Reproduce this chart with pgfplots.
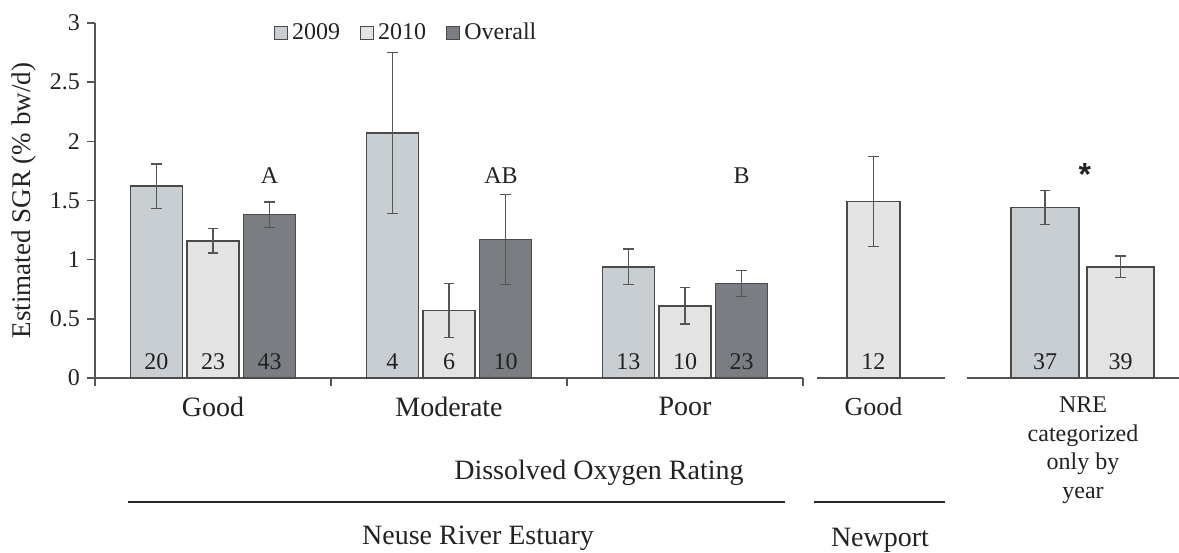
\documentclass[border=0pt]{standalone}
\usepackage{fontspec}
\setmainfont{Liberation Serif}
\newfontfamily\sansbold{Liberation Sans}
\usepackage{pgfplots}
\usepackage{pgfplotstable}
\pgfplotsset{compat=1.18}
\definecolor{c09}{HTML}{C9CED3}
\definecolor{c10}{HTML}{E3E3E3}
\definecolor{cov}{HTML}{7A7E83}
\definecolor{edge}{HTML}{4A4A4A}
\definecolor{axc}{HTML}{555555}
\definecolor{txt}{HTML}{222222}

% x = category position (Good=0, Moderate=1, Poor=2) plus the series offset
\pgfplotstableread{
x y e
-0.24 1.62 0.19
0.76 2.07 0.68
1.76 0.94 0.15
}\tA
\pgfplotstableread{
x y e
0 1.16 0.105
1 0.57 0.23
2 0.61 0.155
}\tB
\pgfplotstableread{
x y e
0.24 1.38 0.107
1.24 1.17 0.38
2.24 0.80 0.11
}\tC

\tikzset{
  cntlab/.style={font=\fontsize{12}{14}\selectfont, text=txt},
  letlab/.style={font=\fontsize{12}{14}\selectfont, text=txt},
}
\pgfplotsset{
  base/.style={scale only axis, ymin=0, ymax=3, height=177.5pt,
    anchor=south west, clip=false,
    axis x line*=bottom,
    axis line style={axc, line width=0.8pt},
    tick align=outside, major tick length=4pt,
    tick style={axc, line width=0.8pt},
    /pgf/number format/assume math mode=true,
    every tick label/.append style={text=txt},
  },
  bars/.style={ybar, bar shift=0pt, draw=edge, line width=0.8pt,
    legend image code/.code={\draw[##1, line width=0.6pt] (0pt,-3.25pt) rectangle (6.5pt,3.25pt);},
    error bars/y dir=both, error bars/y explicit,
    error bars/error bar style={axc, line width=0.7pt},
    error bars/error mark options={rotate=90, mark size=2.6pt, axc, line width=0.7pt},
  },
}

\begin{document}
\begin{tikzpicture}
\path[use as bounding box] (0,0) rectangle (589.5pt,276pt);

% main axis
\begin{axis}[base, at={(47.5pt,87pt)}, width=354pt,
  xmin=-0.5, xmax=2.5,
  axis y line*=left,
  ytick={0,0.5,1,1.5,2,2.5,3},
  yticklabel style={font=\fontsize{12}{14}\selectfont},
  ylabel={Estimated SGR (\% bw/d)},
  ylabel style={at={(axis description cs:-0.1,0.5)}, anchor=center, font=\fontsize{13.5}{16}\selectfont, text=txt},
  xtick={0,1,2}, xticklabels={Good,Moderate,Poor},
  xtick style={draw=none},
  xticklabel style={font=\fontsize{14}{16}\selectfont, yshift=-2pt},
  extra x ticks={-0.5,0.5,1.5,2.5},
  extra x tick labels={\empty,\empty,\empty,\empty},
  extra x tick style={xtick style={draw=axc, line width=0.8pt}},
  legend style={draw=none, fill=none, at={(rel axis cs:0.252,1.012)}, anchor=north west,
    legend columns=3, font=\fontsize{12}{14}\selectfont, inner sep=0pt, text=txt,
    /tikz/every even column/.append style={column sep=8pt}},
  legend cell align=left,
]
\addplot[bars, fill=c09, bar width=0.22] table[x=x, y=y, y error=e]{\tA};
\addlegendentry{2009}
\addplot[bars, fill=c10, bar width=0.22] table[x=x, y=y, y error=e]{\tB};
\addlegendentry{2010}
\addplot[bars, fill=cov, bar width=0.22] table[x=x, y=y, y error=e]{\tC};
\addlegendentry{Overall}

\node[cntlab] at (axis cs:-0.24,0.135) {20};
\node[cntlab] at (axis cs:0,0.135) {23};
\node[cntlab] at (axis cs:0.24,0.135) {43};
\node[cntlab] at (axis cs:0.76,0.135) {4};
\node[cntlab] at (axis cs:1,0.135) {6};
\node[cntlab] at (axis cs:1.24,0.135) {10};
\node[cntlab] at (axis cs:1.76,0.135) {13};
\node[cntlab] at (axis cs:2,0.135) {10};
\node[cntlab] at (axis cs:2.24,0.135) {23};

\node[letlab] at (axis cs:0.24,1.71) {A};
\node[letlab] at (axis cs:1.22,1.71) {AB};
\node[letlab] at (axis cs:2.24,1.71) {B};
\end{axis}

% Newport axis
\begin{axis}[base, at={(408.5pt,87pt)}, width=64pt,
  xmin=-0.239, xmax=0.303,
  axis y line=none,
  xtick={0}, xticklabels={Good}, xtick style={draw=none},
  xticklabel style={font=\fontsize{13}{15}\selectfont, yshift=-2pt},
]
\addplot[bars, fill=c10, bar width=0.225] coordinates {(0,1.49) +- (0,0.38)};
\node[cntlab] at (axis cs:0,0.135) {12};
\end{axis}

% NRE by year axis
\begin{axis}[base, at={(483.5pt,87pt)}, width=106pt,
  xmin=-0.492, xmax=0.407,
  axis y line=none,
  xtick={0}, xticklabels={{NRE\\categorized\\only by\\year}}, xtick style={draw=none},
  xticklabel style={font=\fontsize{12}{14.25}\selectfont, align=center, yshift=-2pt},
]
\addplot[bars, fill=c09, bar width=0.288] coordinates {(-0.161,1.44) +- (0,0.142)};
\addplot[bars, fill=c10, bar width=0.285] coordinates {(0.159,0.94) +- (0,0.09)};
\node[cntlab] at (axis cs:-0.161,0.135) {37};
\node[cntlab] at (axis cs:0.159,0.135) {39};
\node[font=\sansbold\bfseries\fontsize{16}{18}\selectfont, text=txt] at (axis cs:0.008,1.72) {*};
\end{axis}

% group labels below
\begin{scope}[x=0.5pt, y=-0.5pt, shift={(0,276pt)}]
\node[font=\fontsize{14}{16}\selectfont, text=txt, anchor=base] at (599,480) {Dissolved Oxygen Rating};
\draw[black!85, line width=0.9pt] (128,502) -- (785,502);
\draw[black!85, line width=0.9pt] (814,502) -- (945,502);
\node[font=\fontsize{14}{16}\selectfont, text=txt, anchor=base] at (478,545) {Neuse River Estuary};
\node[font=\fontsize{14}{16}\selectfont, text=txt, anchor=base] at (880,547) {Newport};
\end{scope}
\end{tikzpicture}
\end{document}
